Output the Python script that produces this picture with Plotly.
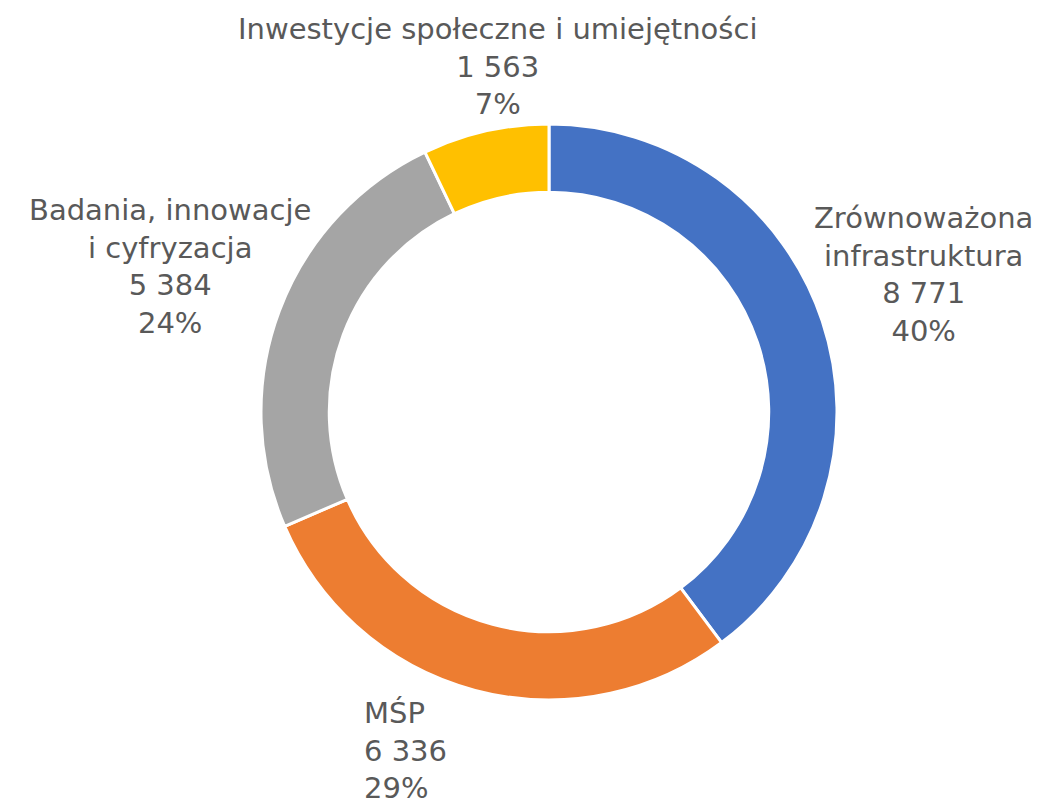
import plotly.graph_objects as go

categories = ["Zrównoważona infrastruktura", "MŚP", "Badania, innowacje i cyfryzacja", "Inwestycje społeczne i umiejętności"]
label_lines = [["Zrównoważona", "infrastruktura"], ["MŚP"], ["Badania, innowacje", "i cyfryzacja"], ["Inwestycje społeczne i umiejętności"]]
values = [8771, 6336, 5384, 1563]
colors = ["#4472C4", "#ED7D31", "#A5A5A5", "#FFC000"]

W, H = 1045, 806
OFF = 8  # page body margin offset
total = sum(values)

def fx(px):
    return (px - OFF) / W

def fy(py):
    return 1 - (py - OFF) / H

def fmt(v):
    return f"{v:,}".replace(",", " ")

fig = go.Figure(go.Pie(
    labels=categories,
    values=values,
    hole=0.763,
    sort=False,
    direction="clockwise",
    rotation=0,
    marker=dict(colors=colors, line=dict(color="white", width=3)),
    textinfo="none",
    hoverinfo="label+value+percent",
    domain=dict(x=[fx(261), fx(837)], y=[fy(700), fy(124)]),
    showlegend=False,
))

# label block placement (pixel centre/anchor) and alignment
placements = [
    (923, 274, "center", "center"),
    (362, 750, "left", "left"),
    (170, 266, "center", "center"),
    (497, 66, "center", "center"),
]
for lines, v, (px, py, xanchor, align) in zip(label_lines, values, placements):
    pct = round(v / total * 100)
    text = "<br>".join(lines + [fmt(v), f"{pct}%"])
    fig.add_annotation(
        x=fx(px), y=fy(py), xref="paper", yref="paper",
        xanchor=xanchor, yanchor="middle", align=align,
        text=text, showarrow=False,
        font=dict(family="DejaVu Sans", size=29, color="#595959"),
    )

fig.update_layout(
    width=W, height=H,
    margin=dict(l=0, r=0, t=0, b=0),
    paper_bgcolor="white", plot_bgcolor="white",
)
fig.write_html("out.html")
